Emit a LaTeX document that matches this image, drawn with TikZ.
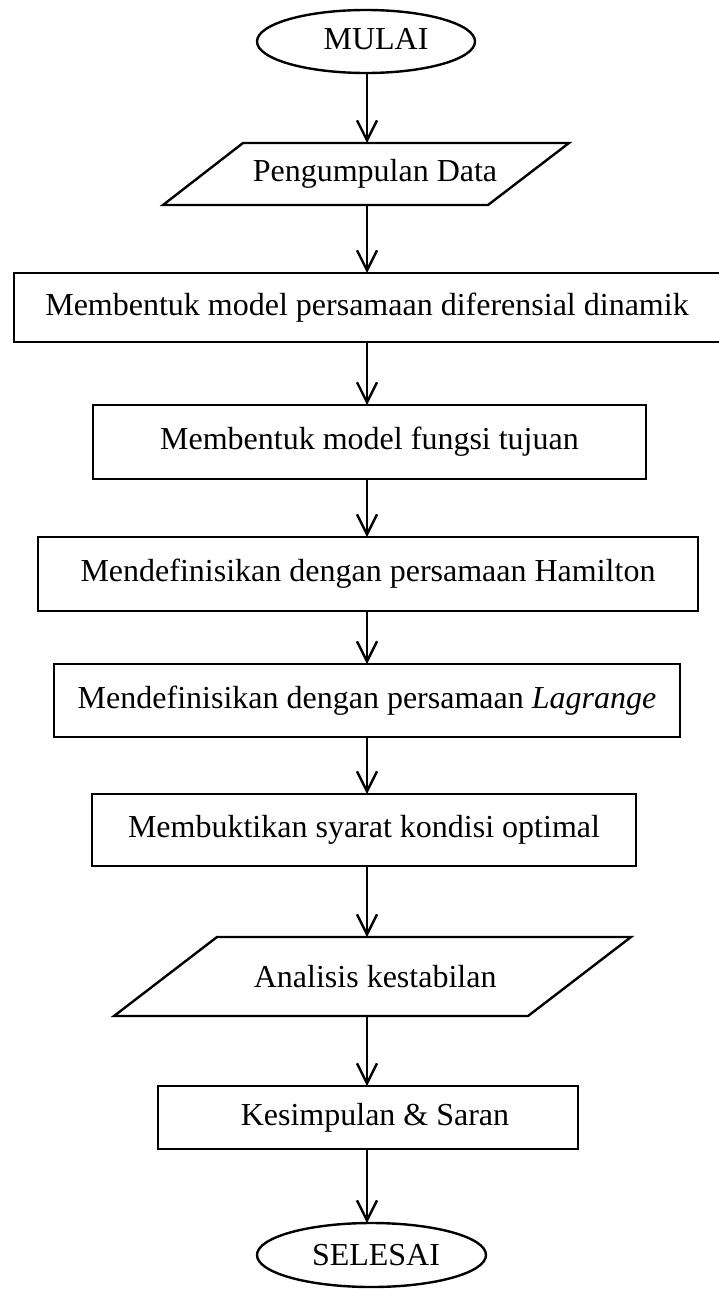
\documentclass[tikz,border=0pt]{standalone}
\usepackage{fontspec}
\setmainfont{Liberation Serif}
\usetikzlibrary{arrows.meta,shapes.geometric}
\begin{document}
\begin{tikzpicture}[x=0.75pt,y=-0.75pt,
  every node/.style={font=\fontsize{24}{28}\selectfont,inner sep=0pt,outer sep=0pt},
  lw/.style={line width=1.8pt},
  box/.style 2 args={lw,draw,rectangle,minimum width=#1*0.75pt,minimum height=#2*0.75pt},
  oval/.style 2 args={lw,draw,ellipse,minimum width=#1*0.75pt,minimum height=#2*0.75pt},
  holder/.style 2 args={rectangle,minimum width=#1*0.75pt,minimum height=#2*0.75pt},
  arr/.style={lw,-{Straight Barb[length=15pt,width=15pt,line width=1.8pt]}}
]
\useasboundingbox (0,0) rectangle (718,1289);
\fill[white] (0,0) rectangle (718,1289);
\coordinate (ax) at (367,0);

% start
\node[oval={218}{63}] (e1) at (366,41.5) {\hspace*{15pt}\raisebox{4.5pt}{MULAI}};

% parallelogram 1
\draw[lw,line join=miter] (243,143) -- (569,143) -- (488,205) -- (163,205) -- cycle;
\node[holder={326}{62}] (p1) at (366,174) {\hspace*{13.5pt}Pengumpulan Data};

\node[box={706}{69}] (r1) at (367,307.5) {Membentuk model persamaan diferensial dinamik};
\node[box={553}{74}] (r2) at (369.5,442) {Membentuk model fungsi tujuan};
\node[box={660}{74}] (r3) at (368,574) {Mendefinisikan dengan persamaan Hamilton};
\node[box={626}{73}] (r4) at (367,700.5) {Mendefinisikan dengan persamaan \textit{Lagrange}};
\node[box={544}{72}] (r5) at (364,830) {Membuktikan syarat kondisi optimal};

% parallelogram 2
\draw[lw,line join=miter] (217,937) -- (631,937) -- (528,1016) -- (114,1016) -- cycle;
\node[holder={414}{79}] (p2) at (372.5,976.5) {\hspace*{4pt}Analisis kestabilan};

\node[box={420}{63}] (r6) at (368,1117.5) {\hspace*{10.5pt}Kesimpulan \& Saran};

\node[oval={229}{64}] (e2) at (371.5,1255) {\hspace*{6.75pt}SELESAI};

% connectors
\draw[arr] (e1.south -| ax) -- (p1.north -| ax);
\draw[arr] (p1.south -| ax) -- (r1.north -| ax);
\draw[arr] (r1.south -| ax) -- (r2.north -| ax);
\draw[arr] (r2.south -| ax) -- (r3.north -| ax);
\draw[arr] (r3.south -| ax) -- (r4.north -| ax);
\draw[arr] (r4.south -| ax) -- (r5.north -| ax);
\draw[arr] (r5.south -| ax) -- (p2.north -| ax);
\draw[arr] (p2.south -| ax) -- (r6.north -| ax);
\draw[arr] (r6.south -| ax) -- (e2.north -| ax);
\end{tikzpicture}
\end{document}
